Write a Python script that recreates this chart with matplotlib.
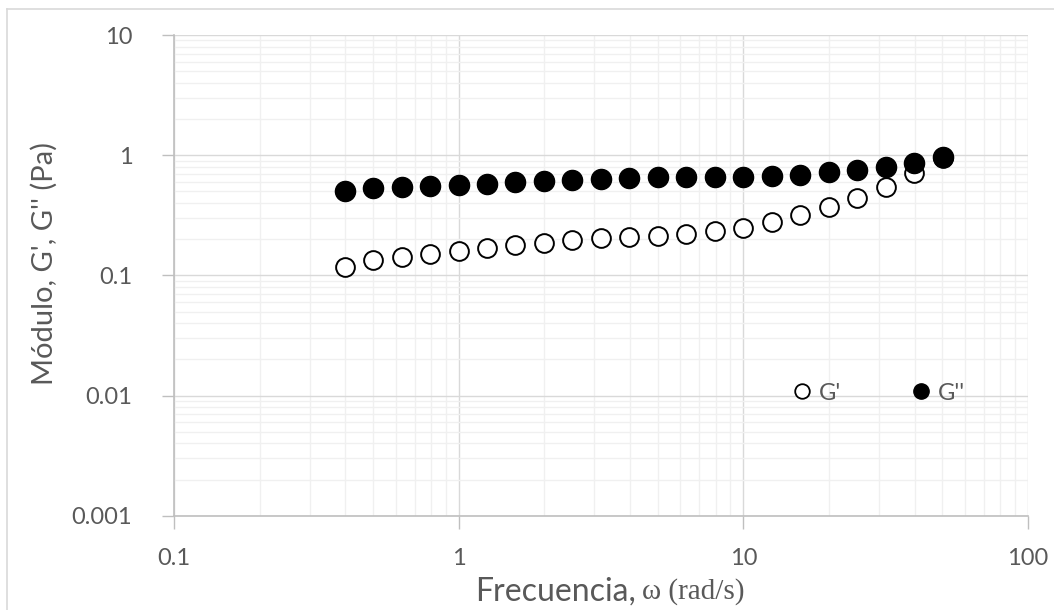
import numpy as np
import matplotlib
matplotlib.use('Agg')
import matplotlib.pyplot as plt
from matplotlib.lines import Line2D

# Data (frequency in rad/s, moduli in Pa)
omega = [0.398, 0.501, 0.631, 0.794, 1.0, 1.26, 1.58, 2.0, 2.51, 3.16, 3.98,
         5.01, 6.31, 7.94, 10.0, 12.6, 15.8, 20.0, 25.1, 31.6, 39.8, 50.1]
g_prime = [0.118, 0.134, 0.143, 0.150, 0.159, 0.168, 0.178, 0.186, 0.196, 0.205, 0.209,
           0.212, 0.220, 0.233, 0.250, 0.277, 0.315, 0.372, 0.444, 0.545, 0.712, 0.94]
g_double = [0.505, 0.535, 0.545, 0.552, 0.563, 0.581, 0.593, 0.604, 0.620, 0.628, 0.640,
            0.652, 0.652, 0.656, 0.660, 0.668, 0.686, 0.718, 0.746, 0.800, 0.863, 0.968]

x_ticks = [0.1, 1, 10, 100]
x_labels = ['0.1', '1', '10', '100']
y_ticks = [0.001, 0.01, 0.1, 1, 10]
y_labels = ['0.001', '0.01', '0.1', '1', '10']

sans = 'Lato'
grey = '#595959'

fig = plt.figure(figsize=(10.54, 6.10), dpi=100)
ax = fig.add_axes([174/1054, 1 - 515.7/610, 854/1054, 480.7/610])

ax.set_xscale('log')
ax.set_yscale('log')
ax.set_xlim(0.1, 100)
ax.set_ylim(0.001, 10)

# gridlines like Excel: major darker, minor lighter
ax.grid(True, which='minor', color='#f0f0f0', linewidth=1.0, zorder=0)
ax.grid(True, which='major', color='#d9d9d9', linewidth=1.0, zorder=0)
ax.set_axisbelow(True)

ax.plot(omega, g_prime, linestyle='none', marker='o', markersize=13.5,
        markerfacecolor='white', markeredgecolor='black', markeredgewidth=1.4,
        label="G'", zorder=3)
ax.plot(omega, g_double, linestyle='none', marker='o', markersize=14.5,
        markerfacecolor='black', markeredgecolor='black', markeredgewidth=1.0,
        label="G''", zorder=4)

ax.set_xticks(x_ticks)
ax.set_xticklabels(x_labels)
ax.set_yticks(y_ticks)
ax.set_yticklabels(y_labels)
ax.tick_params(which='major', length=9, width=1, color='#bfbfbf',
               labelsize=17, labelcolor=grey)
ax.tick_params(which='minor', length=0)
ax.tick_params(axis='x', pad=14)
ax.tick_params(axis='y', pad=21)
for lab in ax.get_xticklabels() + ax.get_yticklabels():
    lab.set_family(sans)

for s in ['top', 'right']:
    ax.spines[s].set_visible(False)
for s in ['left', 'bottom']:
    ax.spines[s].set_color('#bfbfbf')
    ax.spines[s].set_linewidth(1.2)

# legend
handles = [Line2D([], [], linestyle='none', marker='o', markersize=10.5,
                  markerfacecolor='white', markeredgecolor='black', markeredgewidth=1.3),
           Line2D([], [], linestyle='none', marker='o', markersize=11,
                  markerfacecolor='black', markeredgecolor='black')]
leg = ax.legend(handles, ["G'", "G''"], ncol=2, frameon=False, loc='center',
                bbox_to_anchor=(0.825, 0.255), handlelength=0.8, handletextpad=0.3,
                columnspacing=3.0, prop={'family': sans, 'size': 17})
for t in leg.get_texts():
    t.set_color(grey)

# axis titles (sans part + serif omega part, as in the original)
fig.text(636/1054, 1 - 592/610, 'Frecuencia,', family=sans, fontsize=23,
         color=grey, ha='right', va='center')
fig.text(642/1054, 1 - 592/610, 'ω (rad/s)', family='Liberation Serif', fontsize=21,
         color=grey, ha='left', va='center')
fig.text(44/1054, 1 - 264/610, "Módulo, G', G'' (Pa)", family=sans, fontsize=21,
         color=grey, rotation=90, ha='center', va='center')

# chart area border (top and left edges visible in the screenshot)
fig.add_artist(Line2D([7/1054, 7/1054], [0, 1 - 9/610], transform=fig.transFigure,
                      color='#d9d9d9', linewidth=1.2))
fig.add_artist(Line2D([7/1054, 1], [1 - 9/610, 1 - 9/610], transform=fig.transFigure,
                      color='#d9d9d9', linewidth=1.2))

plt.savefig('out.png', dpi=100)
